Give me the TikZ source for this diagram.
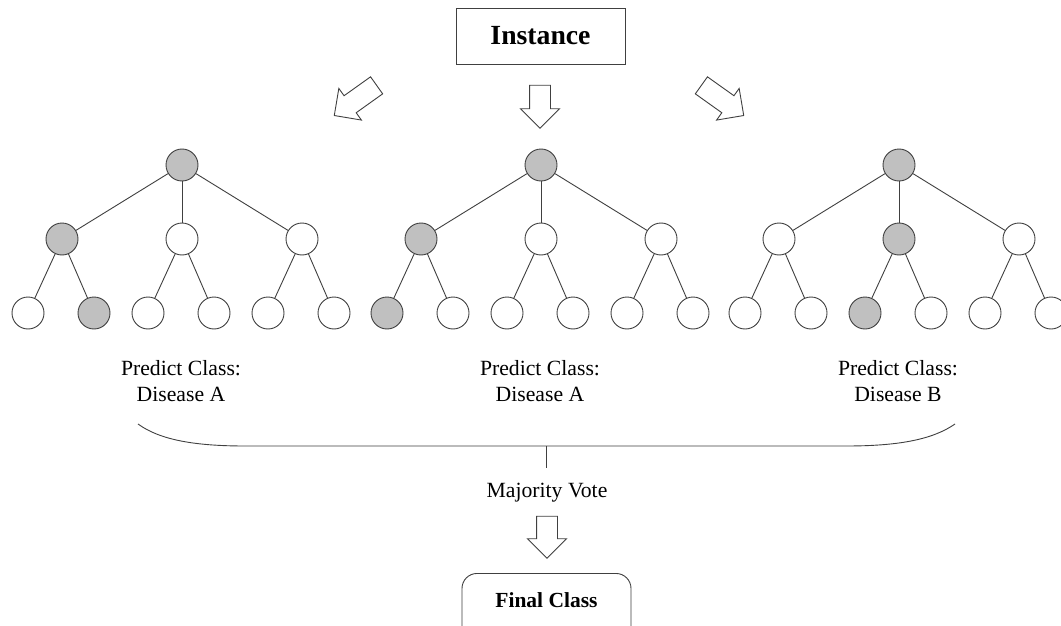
\documentclass[tikz,border=0pt]{standalone}
\usepackage{fontspec}
\setmainfont{Liberation Serif}
\usetikzlibrary{shapes.arrows}
\definecolor{G}{HTML}{C0C0C0}
\definecolor{W}{HTML}{FFFFFF}
\definecolor{ln}{HTML}{404040}
\begin{document}
\begin{tikzpicture}[x=1pt,y=-1pt,
  nd/.style={circle,draw=ln,line width=0.9pt,minimum size=32pt,inner sep=0pt},
  ed/.style={draw=ln,line width=0.9pt},
  lbl/.style={font=\fontsize{21.7}{26}\selectfont,align=center,inner sep=0pt},
  barrow/.style={single arrow,draw=ln,line width=0.9pt,fill=white,inner xsep=0pt,
    inner ysep=10pt,single arrow head extend=9pt,single arrow head indent=0pt,
    minimum height=#1},
  box/.style={draw=ln,line width=0.9pt,inner sep=0pt}]
\clip (0,0) rectangle (1061,626);
\fill[white] (0,0) rectangle (1061,626);

% Instance box and arrows
\node[box,minimum width=169pt,minimum height=56pt,
  font=\bfseries\fontsize{27.7}{30}\selectfont] (inst) at (540.5,36) {Instance};
\node[barrow=52pt,rotate=215.5] (arrL) at (359.7,97.4) {};
\node[barrow=43pt,rotate=-90] (arrM) at (540,101.5) {};
\node[barrow=52pt,rotate=-35.5] (arrR) at (718.3,97.4) {};

% Trees
\foreach \id/\cx/\sa/\sb/\sc/\la/\lb/\lc/\ld/\le/\lf in
  {1/182/G/W/W/W/G/W/W/W/W,
   2/541/G/W/W/G/W/W/W/W/W,
   3/899/W/G/W/W/W/G/W/W/W}{
  \node[nd,fill=G] (r\id) at (\cx,165) {};
  \node[nd,fill=\sa] (m\id a) at (\cx-120,239) {};
  \node[nd,fill=\sb] (m\id b) at (\cx,239) {};
  \node[nd,fill=\sc] (m\id c) at (\cx+120,239) {};
  \node[nd,fill=\la] (l\id a) at (\cx-154,313) {};
  \node[nd,fill=\lb] (l\id b) at (\cx-88,313) {};
  \node[nd,fill=\lc] (l\id c) at (\cx-34,313) {};
  \node[nd,fill=\ld] (l\id d) at (\cx+32,313) {};
  \node[nd,fill=\le] (l\id e) at (\cx+86,313) {};
  \node[nd,fill=\lf] (l\id f) at (\cx+152,313) {};
  \draw[ed] (r\id) -- (m\id a);
  \draw[ed] (r\id) -- (m\id b);
  \draw[ed] (r\id) -- (m\id c);
  \draw[ed] (m\id a) -- (l\id a);
  \draw[ed] (m\id a) -- (l\id b);
  \draw[ed] (m\id b) -- (l\id c);
  \draw[ed] (m\id b) -- (l\id d);
  \draw[ed] (m\id c) -- (l\id e);
  \draw[ed] (m\id c) -- (l\id f);
}

% Predictions
\node[lbl] (p1) at (181,381) {Predict Class:\\Disease A};
\node[lbl] (p2) at (540,381) {Predict Class:\\Disease A};
\node[lbl] (p3) at (898,381) {Predict Class:\\Disease B};

% Brace
\coordinate (bl) at (138,424);
\coordinate (br) at (955,424);
\coordinate (bc) at (546,446);
\coordinate (bt) at (546,468);
\draw[ed] (bl) .. controls (160,440) and (195,446) .. (245,446) -- (bc)
  -- (846,446) .. controls (897,446) and (932,440) .. (br);
\draw[ed] (bc) -- (bt);

\node[lbl] (mv) at (547,493) {Majority Vote};
\node[barrow=42pt,rotate=-90] (arrB) at (547,532) {};

\node[box,rounded corners=15pt,anchor=north,minimum width=169pt,
  text height=34pt,text depth=36pt,
  font=\bfseries\fontsize{21.5}{24}\selectfont] (fin) at (546.5,573) {Final Class};
\end{tikzpicture}
\end{document}
